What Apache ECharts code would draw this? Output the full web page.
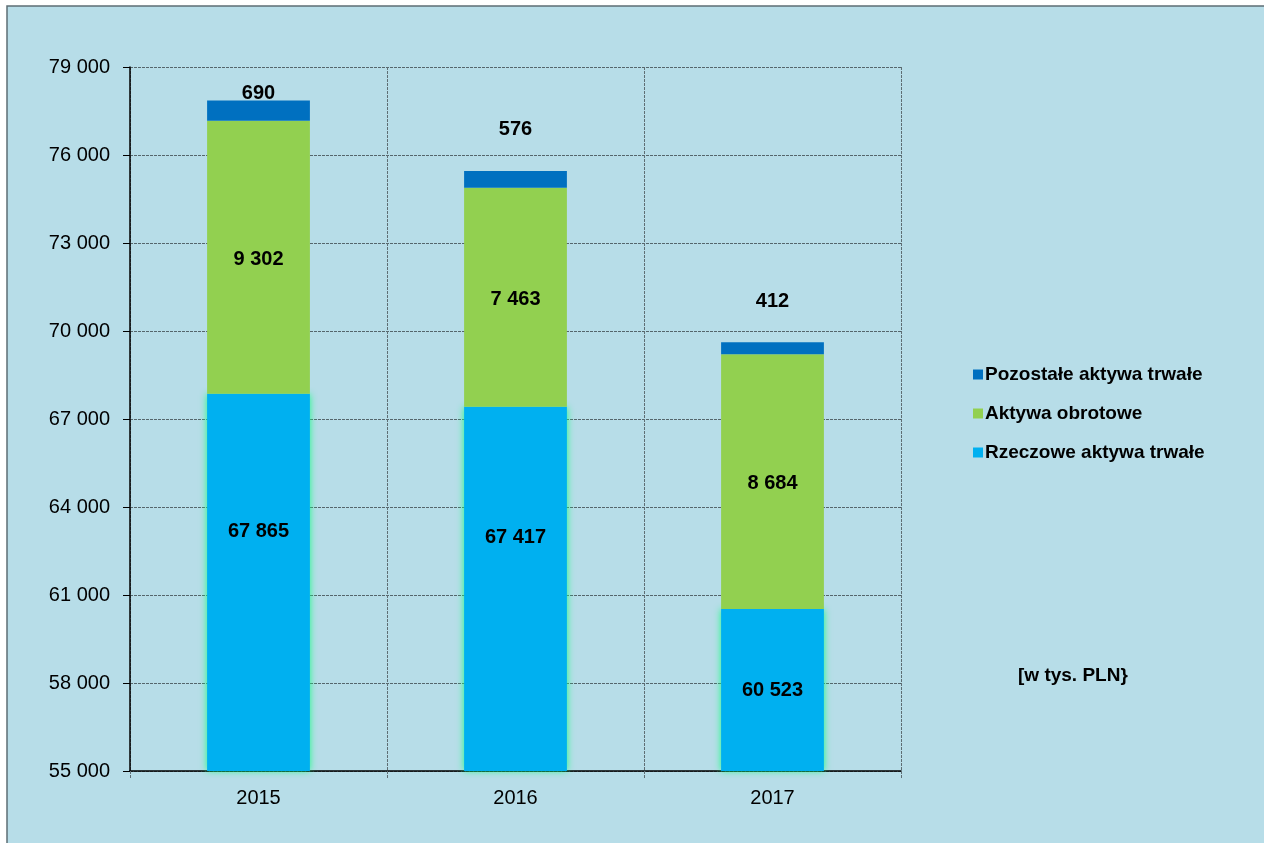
<!DOCTYPE html>
<html>
<head>
<meta charset="utf-8">
<script src="https://cdn.jsdelivr.net/npm/echarts@6/dist/echarts.min.js"></script>
<style>
  html, body { margin: 0; padding: 0; background: #ffffff; }
  #chart { width: 1264px; height: 843px; }
</style>
</head>
<body>
<div id="chart"></div>
<script>
var chartDom = document.getElementById('chart');
var myChart = echarts.init(chartDom);

// data
var years = ['2015', '2016', '2017'];
var rzeczowe = [67865, 67417, 60523];
var obrotowe = [9302, 7463, 8684];
var pozostale = [690, 576, 412];
var yTicks = [55000, 58000, 61000, 64000, 67000, 70000, 73000, 76000, 79000];

var font = '"Liberation Sans", Arial, sans-serif';

function fmt(v) {
  return String(v).replace(/\B(?=(\d{3})+(?!\d))/g, ' ');
}

var labelStyle = {
  show: true,
  color: '#000',
  fontFamily: font,
  fontWeight: 'bold',
  fontSize: 20,
  formatter: function (p) { return fmt(p.value); }
};

myChart.setOption({
  backgroundColor: '#ffffff',
  textStyle: { fontFamily: font },
  graphic: [
    {
      type: 'rect',
      shape: { x: 7, y: 6, width: 1300, height: 900 },
      style: { fill: '#b7dde8', stroke: '#5e6e74', lineWidth: 1.5 },
      z: -10
    },
    {
      type: 'text',
      left: 1018,
      top: 666,
      style: { text: '[w tys. PLN}', fill: '#000', font: 'bold 19px ' + font }
    }
  ],
  legend: {
    orient: 'vertical',
    left: 968,
    top: 360,
    itemWidth: 10,
    itemHeight: 10,
    itemGap: 20,
    icon: 'rect',
    data: ['Pozostałe aktywa trwałe', 'Aktywa obrotowe', 'Rzeczowe aktywa trwałe'],
    textStyle: { color: '#000', fontSize: 19, fontWeight: 'bold', fontFamily: font, padding: [0, 0, 0, -3] }
  },
  grid: { left: 130, right: 363, top: 67, bottom: 72 },
  xAxis: {
    type: 'category',
    data: years,
    boundaryGap: true,
    axisLine: { lineStyle: { color: '#000', width: 1.5 } },
    axisTick: { show: true, length: 8, lineStyle: { color: '#5e6e74', type: [3, 1] } },
    axisLabel: { color: '#000', fontSize: 20, margin: 17, fontFamily: font },
    splitLine: { show: true, lineStyle: { color: '#5e6e74', type: [3, 1], width: 1 } }
  },
  yAxis: {
    type: 'value',
    min: 55000,
    max: 79000,
    axisLine: { show: true, lineStyle: { color: '#000', width: 1.5 } },
    axisTick: { show: true, length: 7, customValues: yTicks, lineStyle: { color: '#000' } },
    axisLabel: {
      customValues: yTicks,
      color: '#000',
      fontSize: 20,
      margin: 20,
      fontFamily: font,
      formatter: function (v) { return fmt(v); }
    },
    splitLine: { show: true, lineStyle: { color: '#55666c', type: [3, 1], width: 1 } }
  },
  series: [
    {
      name: 'Rzeczowe aktywa trwałe',
      type: 'bar',
      stack: 'a',
      barWidth: '40%',
      itemStyle: { color: '#00b0f0', shadowColor: 'rgba(20,255,130,0.95)', shadowBlur: 7 },
      label: Object.assign({}, labelStyle, { position: 'inside' }),
      data: rzeczowe.map(function (v, i) {
        return { value: v, label: { offset: [0, i < 2 ? -51 : 0] } };
      })
    },
    {
      name: 'Aktywa obrotowe',
      type: 'bar',
      stack: 'a',
      itemStyle: { color: '#92d050' },
      label: Object.assign({}, labelStyle, { position: 'inside', offset: [0, 2] }),
      data: obrotowe
    },
    {
      name: 'Pozostałe aktywa trwałe',
      type: 'bar',
      stack: 'a',
      itemStyle: { color: '#0070c0' },
      label: Object.assign({}, labelStyle, { position: 'top' }),
      data: pozostale.map(function (v, i) {
        return { value: v, label: { distance: i === 0 ? -3 : 31 } };
      })
    }
  ]
});
</script>
</body>
</html>
